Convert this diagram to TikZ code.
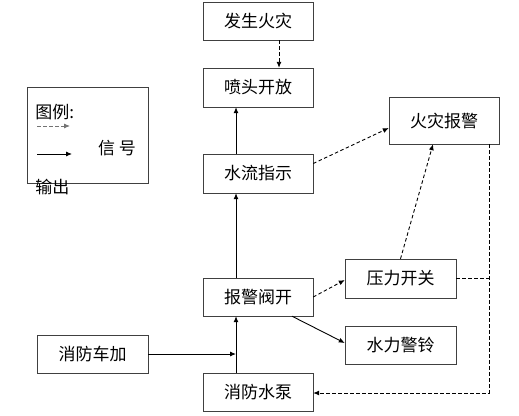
\documentclass[tikz,border=0pt]{standalone}
\usepackage{fontspec}
\usetikzlibrary{arrows.meta}
\newfontfamily\cjk{Noto Sans CJK SC}
\begin{document}
\begin{tikzpicture}[>={Latex[length=6pt,width=5pt]}, x=1pt, y=-1pt, line width=0.9pt,
    font=\cjk\fontsize{17}{19}\selectfont]
    \tikzset{
        box/.style={draw=black!75, thin, minimum width=110pt, minimum height=38pt, inner sep=0pt},
        sig/.style={dash pattern=on 3.5pt off 2.5pt},
    }
    \useasboundingbox (0,0) rectangle (519,415);

    % boxes
    \node[box] (fire) at (258,21) {发生火灾};
    \node[box, minimum height=39pt] (spray) at (258,87.5) {喷头开放};
    \node[box, minimum height=39pt] (flow) at (258,173.5) {水流指示};
    \node[box] (valve) at (258,297) {报警阀开};
    \node[box] (pump) at (258,392) {消防水泵};
    \node[box, minimum width=111pt, minimum height=39pt] (press) at (400.5,278.5) {压力开关};
    \node[box, minimum width=111pt] (bell) at (400.5,345) {水力警铃};
    \node[box, minimum height=47pt] (alarm) at (444,120.5) {火灾报警};
    \node[box, minimum width=111pt] (truck) at (92.5,354) {消防车加};

    % main line
    \draw[->, sig] ([xshift=21pt]fire.south) -- ([xshift=21pt]spray.north);
    \draw[->] ([xshift=-22pt]flow.north) -- ([xshift=-22pt]spray.south);
    \draw[->] ([xshift=-22pt]valve.north) -- ([xshift=-22pt]flow.south);
    \draw[->] ([xshift=-22pt]pump.north) -- ([xshift=-22pt]valve.south);
    \coordinate (feed) at ([xshift=-22pt]pump.north);
    \draw[->] (truck.east) -- (truck.east -| feed);

    % branches
    \draw[->, sig] (valve.east) -- ([yshift=-1.5pt]press.west);
    \draw[->] ([xshift=34pt]valve.south) -- ([yshift=2pt]bell.west);
    \draw[->, sig] (press.north) -- ([xshift=-11pt]alarm.south);
    \draw[->, sig] ([yshift=10pt]flow.east) -- ([yshift=-7.5pt]alarm.west);
    \coordinate (drop) at ([xshift=45pt]alarm.south);
    \draw[->, sig] (drop) |- ([yshift=-1pt]pump.east);
    \draw[sig] (press.east) -- (press.east -| drop);

    % legend
    \draw[black!75, thin] (27,87) rectangle (148,183);
    \node[anchor=west, inner sep=0pt] (legtitle) at (35,112) {图例:};
    \coordinate (dash0) at (37,126);
    \coordinate (dash1) at (70,126);
    \draw[->, sig, black!55] (dash0) -- (dash1);
    \coordinate (line0) at (37,154);
    \coordinate (line1) at (72,154);
    \draw[->] (line0) -- (line1);
    \node[inner sep=0pt] (legsig) at (117,148) {信\ 号};
    \node[anchor=west, inner sep=0pt] (legout) at (35,187) {输出};
\end{tikzpicture}
\end{document}
